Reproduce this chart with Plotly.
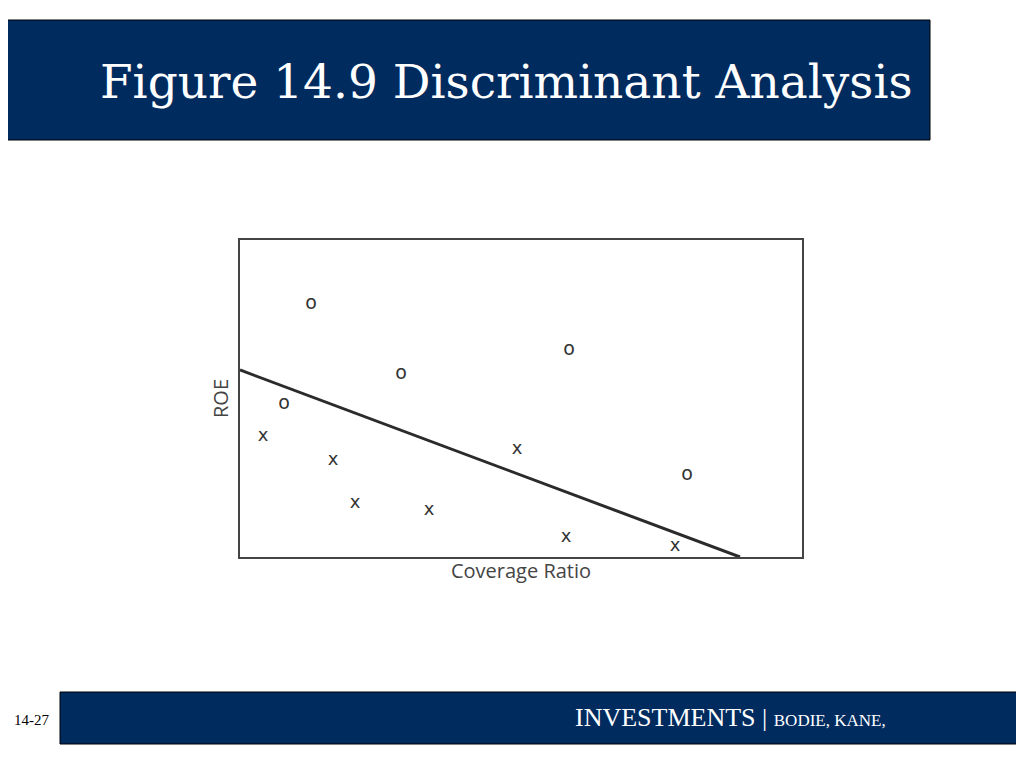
import plotly.graph_objects as go

W, H = 1024, 768
OFF = 8  # page body margin shifts the figure

# data in plot units (0..562 horizontally, 0..317 vertically)
o_x = [71, 161, 44, 329, 447]
o_y = [253, 183, 153, 207, 82]
x_x = [23, 93, 115, 189, 277, 326, 435]
x_y = [121, 97, 54, 47, 108, 20, 11]
line_x = [0, 500]
line_y = [187, 0]

fig = go.Figure()
fig.add_trace(go.Scatter(x=line_x, y=line_y, mode="lines",
                         line=dict(color="#2b2b2b", width=3), hoverinfo="skip"))
fig.add_trace(go.Scatter(x=o_x, y=o_y, mode="text", text=["o"] * len(o_x),
                         textfont=dict(family="DejaVu Sans", size=19, color="#333"),
                         textposition="middle center"))
fig.add_trace(go.Scatter(x=x_x, y=x_y, mode="text", text=["x"] * len(x_x),
                         textfont=dict(family="DejaVu Sans", size=18, color="#333"),
                         textposition="middle center"))

def px(v): return (v - OFF) / W
def py(v): return 1 - (v - OFF) / H

shapes = [
    dict(type="rect", xref="paper", yref="paper", x0=px(0), x1=px(930), y0=py(140), y1=py(20),
         fillcolor="#002B5F", line=dict(color="black", width=1)),
    dict(type="rect", xref="paper", yref="paper", x0=px(60), x1=px(1030), y0=py(744), y1=py(692),
         fillcolor="#002B5F", line=dict(color="black", width=1)),
]

annotations = [
    dict(text="Figure 14.9 Discriminant Analysis", x=px(98), y=py(82), xref="paper", yref="paper",
         xanchor="left", yanchor="middle", showarrow=False,
         font=dict(family="DejaVu Serif", size=47, color="white")),
    dict(text="14-27", x=px(12), y=py(720), xref="paper", yref="paper", xanchor="left",
         yanchor="middle", showarrow=False, font=dict(family="Liberation Serif", size=15, color="black")),
    dict(text="INVESTMENTS | <span style='font-size:17px'>BODIE, KANE,</span>", x=px(573), y=py(717),
         xref="paper", yref="paper", xanchor="left", yanchor="middle", showarrow=False,
         font=dict(family="Liberation Serif", size=26, color="white")),
]

fig.update_layout(
    width=W, height=H, margin=dict(l=0, r=0, t=0, b=0),
    paper_bgcolor="white", plot_bgcolor="white", showlegend=False,
    shapes=shapes, annotations=annotations,
    xaxis=dict(domain=[px(240), px(802)], range=[0, 562], showticklabels=False, showgrid=False,
               zeroline=False, showline=True, mirror=True, linecolor="#444", linewidth=1.5,
               title=dict(text="Coverage Ratio", standoff=6,
                          font=dict(family="Open Sans", size=20, color="#444"))),
    yaxis=dict(domain=[py(557), py(240)], range=[0, 317], showticklabels=False, showgrid=False,
               zeroline=False, showline=True, mirror=True, linecolor="#444", linewidth=1.5,
               title=dict(text="ROE", standoff=4,
                          font=dict(family="Open Sans", size=20, color="#444"))),
)

fig.write_html("out.html")
